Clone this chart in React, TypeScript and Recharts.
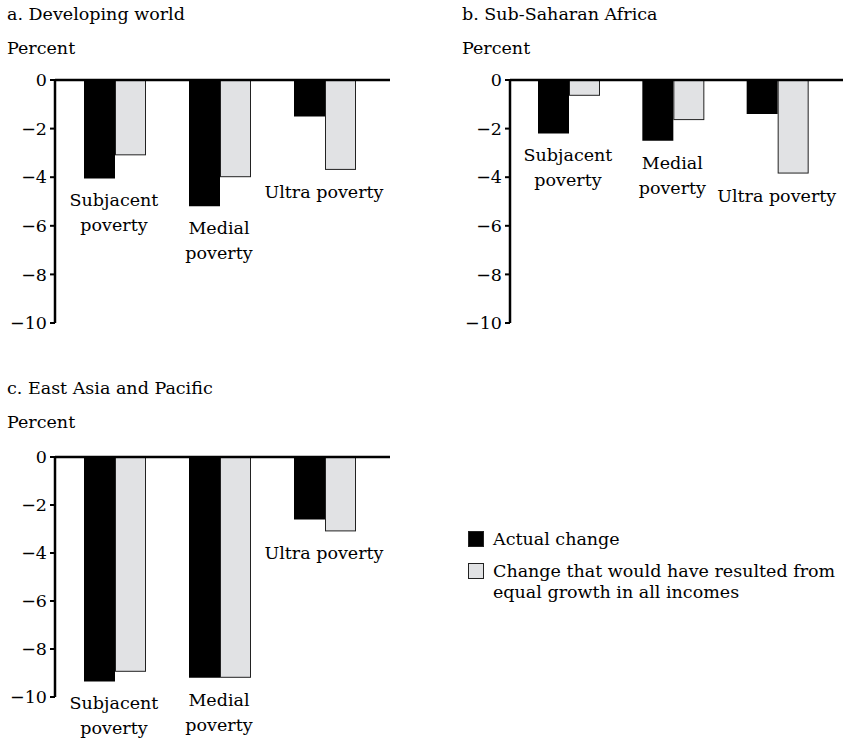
import { Bar, BarChart, ReferenceLine, XAxis, YAxis } from "recharts";

const SERIF = '"DejaVu Serif", "Liberation Serif", serif';
const INK = "#000";
const GREY = "#e1e2e4";
const FONT_SIZE = 17.5;

const categories = ["Subjacent poverty", "Medial poverty", "Ultra poverty"];
const categoryLines = [["Subjacent", "poverty"], ["Medial", "poverty"], ["Ultra poverty"]];
const yTicks = [0, -2, -4, -6, -8, -10];

const developingActual = [-4.05, -5.2, -1.5];
const developingEqual = [-3.1, -4.0, -3.7];
const africaActual = [-2.2, -2.5, -1.4];
const africaEqual = [-0.65, -1.65, -3.85];
const eastAsiaActual = [-9.35, -9.2, -2.6];
const eastAsiaEqual = [-8.95, -9.2, -3.1];

const actualName = "Actual change";
const equalNameLines = ["Change that would have resulted from", "equal growth in all incomes"];

type Row = { name: string; lines: string[]; actual: number; equal: number };

function buildRows(actual: number[], equal: number[]): Row[] {
  return categories.map((name, i) => ({
    name,
    lines: categoryLines[i],
    actual: actual[i],
    equal: equal[i],
  }));
}

const formatTick = (v: number) => (v === 0 ? "0" : "\u2212" + Math.abs(v));

// Grey bar plus the group's category label, hung below the deeper of the two bars
function EqualBarWithLabel(props: any) {
  const { x, y, width, height, payload } = props;
  const top = Math.min(y, y + height);
  const span = Math.abs(height);
  const perUnit = span / Math.abs(payload.equal);
  const deepest = Math.max(Math.abs(payload.actual), Math.abs(payload.equal));
  const baseline = top + deepest * perUnit + 28;
  const cx = x - 1;
  return (
    <g>
      <rect
        x={x + 0.5}
        y={top}
        width={width - 1}
        height={Math.max(span - 0.5, 0)}
        fill={GREY}
        stroke="#222"
        strokeWidth={1}
      />
      <text x={cx} y={baseline} textAnchor="middle" fontFamily={SERIF} fontSize={FONT_SIZE} fill={INK}>
        {payload.lines.map((line: string, i: number) => (
          <tspan key={i} x={cx} dy={i === 0 ? 0 : 25}>
            {line}
          </tspan>
        ))}
      </text>
    </g>
  );
}

type PanelProps = {
  title: string;
  actual: number[];
  equal: number[];
  left: number;
  top: number;
  chartTop: number;
  width: number;
  height: number;
  margin: { top: number; right: number; bottom: number; left: number };
};

function Panel({ title, actual, equal, left, top, chartTop, width, height, margin }: PanelProps) {
  const data = buildRows(actual, equal);
  const textStyle = {
    position: "absolute" as const,
    left: left + 7,
    fontFamily: SERIF,
    fontSize: FONT_SIZE,
    lineHeight: "20px",
    color: INK,
    whiteSpace: "nowrap" as const,
  };
  return (
    <>
      <div style={{ ...textStyle, top }}>{title}</div>
      <div style={{ ...textStyle, top: top + 34 }}>Percent</div>
      <div style={{ position: "absolute", left, top: chartTop }}>
        <BarChart width={width} height={height} data={data} margin={margin} barGap={0} barSize={31}>
          <XAxis dataKey="name" hide padding={{ left: 7, right: 13 }} />
          <YAxis
            domain={[-10, 0]}
            ticks={yTicks}
            interval={0}
            width={55}
            tickFormatter={formatTick}
            tickSize={5}
            tickMargin={3}
            axisLine={{ stroke: INK, strokeWidth: 2.5 }}
            tickLine={{ stroke: INK, strokeWidth: 2 }}
            tick={{ fill: INK, fontSize: FONT_SIZE, fontFamily: SERIF }}
          />
          <Bar dataKey="actual" name={actualName} fill={INK} isAnimationActive={false} />
          <Bar
            dataKey="equal"
            name={equalNameLines.join(" ")}
            fill={GREY}
            shape={EqualBarWithLabel}
            isAnimationActive={false}
          />
          <ReferenceLine y={0} stroke={INK} strokeWidth={2.5} />
        </BarChart>
      </div>
    </>
  );
}

function SeriesLegend() {
  const item = {
    position: "absolute" as const,
    left: 468,
    fontFamily: SERIF,
    fontSize: FONT_SIZE,
    lineHeight: "21px",
    color: INK,
  };
  const swatch = (fill: string, top: number) => (
    <div
      style={{
        position: "absolute",
        left: 468,
        top,
        width: 14,
        height: 14,
        background: fill,
        border: "1px solid #222",
      }}
    />
  );
  return (
    <>
      {swatch(INK, 531)}
      <div style={{ ...item, left: 493, top: 529 }}>{actualName}</div>
      {swatch(GREY, 563)}
      <div style={{ ...item, left: 493, top: 561, whiteSpace: "nowrap" }}>
        {equalNameLines.map((l, i) => (
          <div key={i}>{l}</div>
        ))}
      </div>
    </>
  );
}

export default function App() {
  return (
    <div style={{ position: "absolute", left: 0, top: 0, width: 843, height: 739, background: "#fff" }}>
      <Panel
        title="a.  Developing world"
        actual={developingActual}
        equal={developingEqual}
        left={0}
        top={4}
        chartTop={70}
        width={400}
        height={270}
        margin={{ top: 10, right: 10, bottom: 17, left: 0 }}
      />
      <Panel
        title="b.  Sub-Saharan Africa"
        actual={africaActual}
        equal={africaEqual}
        left={455}
        top={4}
        chartTop={70}
        width={388}
        height={270}
        margin={{ top: 10, right: 0, bottom: 17, left: 0 }}
      />
      <Panel
        title="c.  East Asia and Pacific"
        actual={eastAsiaActual}
        equal={eastAsiaEqual}
        left={0}
        top={378}
        chartTop={447}
        width={400}
        height={292}
        margin={{ top: 10, right: 10, bottom: 42, left: 0 }}
      />
      <SeriesLegend />
    </div>
  );
}
